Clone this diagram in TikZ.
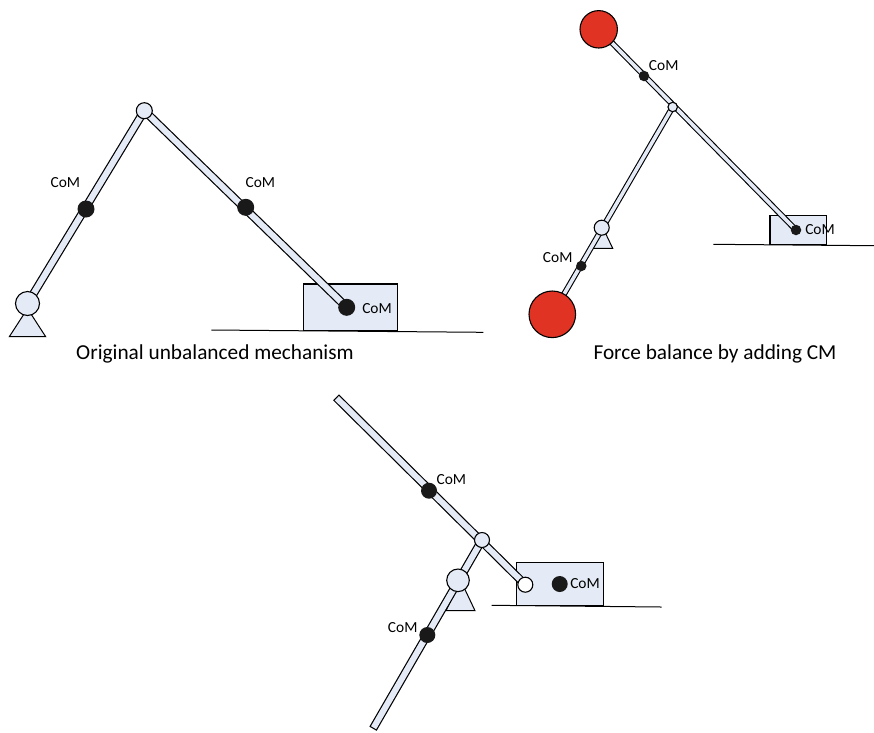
\documentclass[tikz,border=0pt]{standalone}
\usepackage{fontspec}
\setmainfont{Carlito}
\usetikzlibrary{positioning, backgrounds}
\definecolor{barfill}{HTML}{E4EBF6}
\definecolor{ballred}{HTML}{E03324}
\tikzstyle{every node}=[font=\fontsize{15.4}{18}\selectfont, inner sep=0pt, outer sep=0pt]
\tikzstyle{hinge}=[draw, circle, line width=1.1pt, fill=barfill]
\tikzstyle{com}=[circle, fill=black!90]
\tikzstyle{ball}=[draw, circle, line width=1.1pt, fill=ballred]
\tikzstyle{block}=[draw, rectangle, line width=1.1pt, fill=barfill]
\tikzstyle{support}=[draw, line width=1pt, fill=barfill]
\tikzstyle{ground}=[draw, line width=1pt]
\tikzstyle{link}=[line width=8.4pt, draw=black, postaction={draw=barfill, line width=6pt, shorten >=1.2pt, shorten <=1.2pt}]
\tikzstyle{thinlink}=[line width=5.8pt, draw=black, postaction={draw=barfill, line width=3.6pt, shorten >=1pt, shorten <=1pt}]
\tikzstyle{caption}=[font=\fontsize{21.3}{24}\selectfont]

\begin{document}
\begin{tikzpicture}[x=1pt, y=-1pt, on grid]
    \useasboundingbox (0,0) rectangle (874,732);

    % original mechanism
    \node[hinge, minimum size=24pt] (pivotA) at (27.5,303.5) {};
    \node[hinge, minimum size=16pt] (kneeA) at (144.3,110.7) {};
    \node[com, minimum size=17pt] (comA1) at (86,209) {};
    \node[com, minimum size=17pt] (comA2) at (245.7,207.3) {};
    \node[com, minimum size=17pt] (comA3) at (346.7,307.3) {};
    \node[above left=26pt and 20.7pt of comA1] (textA1) {CoM};
    \node[above right=24.3pt and 14.6pt of comA2] (textA2) {CoM};
    \node[below right=1pt and 30.3pt of comA3] (textA3) {CoM};
    \coordinate (groundA0) at (211.3,330);
    \coordinate (groundA1) at (483.3,332.3);
    \node[caption] (captionA) at (215,354) {Original unbalanced mechanism};
    \begin{pgfonlayer}{background}
        \draw[ground] (groundA0) -- (groundA1);
        \node[block, minimum width=93.6pt, minimum height=46.7pt] (blockA) at (350.5,307.3) {};
        \draw[support] (9.3,336.7) -- (27.5,308.6) -- (45.7,336.7) -- cycle;
        \draw[link] (pivotA.center) -- (kneeA.center);
        \draw[link] (kneeA.center) -- (comA3.center);
    \end{pgfonlayer}

    % force balanced mechanism
    \node[ball, minimum size=37.4pt] (ballB1) at (598.7,29.3) {};
    \node[ball, minimum size=46.6pt] (ballB2) at (552.3,314.3) {};
    \node[hinge, minimum size=9.5pt] (kneeB) at (672.7,107) {};
    \node[hinge, minimum size=15pt] (pivotB) at (601.7,227.7) {};
    \node[com, minimum size=10.5pt] (comB1) at (644,76) {};
    \node[com, minimum size=10.5pt] (comB2) at (581.3,266) {};
    \node[com, minimum size=10.5pt] (comB3) at (796,230) {};
    \node[above right=10pt and 19.7pt of comB1] (textB1) {CoM};
    \node[above left=8pt and 23.6pt of comB2] (textB2) {CoM};
    \node[above right=.7pt and 24pt of comB3] (textB3) {CoM};
    \coordinate (groundB0) at (713.3,244.3);
    \coordinate (groundB1) at (874,245.7);
    \node[caption] (captionB) at (715,354) {Force balance by adding CM};
    \begin{pgfonlayer}{background}
        \draw[ground] (groundB0) -- (groundB1);
        \node[block, minimum width=56.7pt, minimum height=29.4pt] (blockB) at (798.3,230) {};
        \draw[support] (591.3,248.3) -- (601.7,225.3) -- (612.7,248.3) -- cycle;
        \draw[thinlink] (ballB2.center) -- (kneeB.center);
        \draw[thinlink] (ballB1.center) -- (comB3.center);
    \end{pgfonlayer}

    % moment balanced mechanism
    \coordinate (endC1) at (336,397.3);
    \coordinate (endC2) at (373,728.7);
    \node[hinge, minimum size=15pt] (kneeC) at (482,540) {};
    \node[hinge, minimum size=22.6pt] (pivotC) at (458,580.3) {};
    \node[hinge, minimum size=15pt, fill=white] (slideC) at (525.3,584.7) {};
    \node[com, minimum size=16pt] (comC1) at (429,490.7) {};
    \node[com, minimum size=16pt] (comC2) at (427.3,635) {};
    \node[com, minimum size=16pt] (comC3) at (559.7,584) {};
    \node[above right=11.4pt and 22.3pt of comC1] (textC1) {CoM};
    \node[above left=7pt and 24.6pt of comC2] (textC2) {CoM};
    \node[above right=.7pt and 25.3pt of comC3] (textC3) {CoM};
    \coordinate (groundC0) at (491.7,605.3);
    \coordinate (groundC1) at (661.7,607);
    \begin{pgfonlayer}{background}
        \draw[ground] (groundC0) -- (groundC1);
        \node[block, minimum width=87.3pt, minimum height=43.4pt] (blockC) at (559.7,584) {};
        \draw[support] (446,610.7) -- (460.5,580) -- (475,610.7) -- cycle;
        \draw[link] (endC1) -- (slideC.center);
        \draw[link] (endC2) -- (kneeC.center);
    \end{pgfonlayer}
\end{tikzpicture}
\end{document}
